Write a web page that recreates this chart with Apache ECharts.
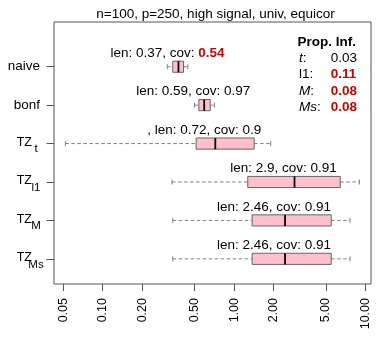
<!DOCTYPE html>
<html>
<head>
<meta charset="UTF-8">
<title>boxplot</title>
<script src="https://cdn.jsdelivr.net/npm/echarts@6.0.0/dist/echarts.min.js"></script>
<style>
  html, body { margin: 0; padding: 0; background: #fff; }
  #chart { width: 388px; height: 347px; }
</style>
</head>
<body>
<div id="chart"></div>
<script>
// methods, top to bottom
var methods = ['naive', 'bonf', 'TZ_t', 'TZ_l1', 'TZ_M', 'TZ_Ms'];
var whiskerLow = [0.31, 0.50, 0.052, 0.337, 0.341, 0.341];
var q1 = [0.341, 0.539, 0.514, 1.27, 1.37, 1.37];
var median = [0.377, 0.592, 0.719, 2.88, 2.44, 2.44];
var q3 = [0.412, 0.658, 1.42, 6.42, 5.48, 5.48];
var whiskerHigh = [0.444, 0.71, 1.90, 8.97, 7.62, 7.62];
var lenText = ['0.37', '0.59', '0.72', '2.9', '2.46', '2.46'];
var covText = ['0.54', '0.97', '0.9', '0.91', '0.91', '0.91'];
var covFlag = [true, false, false, false, false, false];
var labelPrefix = ['', '', ', ', '', '', ''];
var xTicks = [0.05, 0.1, 0.2, 0.5, 1, 2, 5, 10];
var titleText = 'n=100, p=250, high signal, univ, equicor';
var infTitle = 'Prop. Inf.';
var infNames = ['t', 'l1', 'M', 'Ms'];
var infItalic = [true, false, true, true];
var infValues = ['0.03', '0.11', '0.08', '0.08'];
var infFlag = [false, true, true, true];

var FONT = '"Liberation Sans", Arial, Helvetica, sans-serif';
var RED = '#CD0000';
var rows = methods.map(function (m, i) { return methods.length - i; });
var boxHalf = 0.145;
var stapleHalf = 0.065;

var chart = echarts.init(document.getElementById('chart'));

function renderBox(params, api) {
    var i = params.dataIndex;
    var row = api.value(5);
    var yc = api.coord([api.value(2), row])[1];
    var yTop = api.coord([api.value(2), row + boxHalf])[1];
    var yBot = api.coord([api.value(2), row - boxHalf])[1];
    var sTop = api.coord([api.value(2), row + stapleHalf])[1];
    var sBot = api.coord([api.value(2), row - stapleHalf])[1];
    var xLow = api.coord([api.value(0), row])[0];
    var xQ1 = api.coord([api.value(1), row])[0];
    var xMed = api.coord([api.value(2), row])[0];
    var xQ3 = api.coord([api.value(3), row])[0];
    var xHigh = api.coord([api.value(4), row])[0];
    var whisk = { stroke: '#808080', lineWidth: 1, lineDash: [3.5, 2.5] };
    var staple = { stroke: '#808080', lineWidth: 1 };
    var txt = labelPrefix[i] + 'len: ' + lenText[i] + ', cov: ' +
        (covFlag[i] ? '{hi|' + covText[i] + '}' : covText[i]);
    return {
        type: 'group',
        children: [
            { type: 'line', shape: { x1: xLow, y1: yc, x2: xQ1, y2: yc }, style: whisk },
            { type: 'line', shape: { x1: xQ3, y1: yc, x2: xHigh, y2: yc }, style: whisk },
            { type: 'line', shape: { x1: xLow, y1: sTop, x2: xLow, y2: sBot }, style: staple },
            { type: 'line', shape: { x1: xHigh, y1: sTop, x2: xHigh, y2: sBot }, style: staple },
            { type: 'rect', shape: { x: xQ1, y: yTop, width: xQ3 - xQ1, height: yBot - yTop },
              style: { fill: '#FFC0CB', stroke: '#666', lineWidth: 1 } },
            { type: 'line', shape: { x1: xMed, y1: yTop, x2: xMed, y2: yBot },
              style: { stroke: '#000', lineWidth: 1.8 } },
            { type: 'text', x: xMed - 11, y: yc - 13.5,
              style: {
                  text: txt, align: 'center', verticalAlign: 'middle',
                  fontSize: 13.5, fontFamily: FONT, fill: '#000',
                  rich: { hi: { fill: RED, fontWeight: 'bold', fontSize: 13.5, fontFamily: FONT } }
              } }
        ]
    };
}

function yLabel(v) {
    var name = methods[methods.length - Math.round(v)];
    if (!name) return '';
    if (name.indexOf('TZ_') === 0) {
        return '{tz|TZ}{sub|' + name.slice(3) + '}';
    }
    return '{n|' + name + '}';
}

var graphics = [
    { type: 'text', x: 215.5, y: 14.5,
      style: { text: titleText, align: 'center', verticalAlign: 'middle',
               fontSize: 13.5, fontFamily: FONT, fill: '#000' } },
    { type: 'text', x: 297.5, y: 42.3,
      style: { text: infTitle, align: 'left', verticalAlign: 'middle',
               fontSize: 13.5, fontWeight: 'bold', fontFamily: FONT, fill: '#000' } }
];
infNames.forEach(function (nm, i) {
    var y = 58.3 + 16.3 * i;
    graphics.push({ type: 'text', x: 299, y: y,
        style: { text: (infItalic[i] ? '{it|' + nm + '}' : nm) + ':',
                 align: 'left', verticalAlign: 'middle',
                 fontSize: 13.5, fontFamily: FONT, fill: '#000',
                 rich: { it: { fontStyle: 'italic', fontSize: 13.5, fontFamily: FONT, fill: '#000' } } } });
    graphics.push({ type: 'text', x: 330.7, y: y,
        style: { text: infValues[i], align: 'left', verticalAlign: 'middle',
                 fontSize: 13.5, fontFamily: FONT,
                 fontWeight: infFlag[i] ? 'bold' : 'normal',
                 fill: infFlag[i] ? RED : '#000' } });
});

var option = {
    animation: false,
    backgroundColor: '#fff',
    grid: {
        left: 54, right: 17, top: 22, bottom: 63,
        show: true, borderColor: '#555', borderWidth: 1,
        outerBoundsMode: 'none'
    },
    xAxis: {
        type: 'log',
        logBase: 10,
        min: 0.0426,
        max: 11,
        axisLine: { show: false },
        splitLine: { show: false },
        axisTick: { show: true, length: 7, customValues: xTicks, lineStyle: { color: '#555' } },
        axisLabel: {
            customValues: xTicks,
            rotate: 90,
            margin: 14,
            fontSize: 12.5,
            fontFamily: FONT,
            color: '#000',
            formatter: function (v) { return Number(v).toFixed(2); }
        }
    },
    yAxis: {
        type: 'value',
        min: 0.345,
        max: 7.164,
        axisLine: { show: false },
        splitLine: { show: false },
        axisTick: { show: true, length: 7.5, customValues: rows, lineStyle: { color: '#555' } },
        axisLabel: {
            customValues: rows,
            margin: 14,
            color: '#000',
            fontFamily: FONT,
            formatter: yLabel,
            rich: {
                n: { fontSize: 13.5, fontFamily: FONT, color: '#000' },
                tz: { fontSize: 12.5, fontFamily: FONT, color: '#000', padding: [0, 0, 2, 0] },
                sub: { fontSize: 11.5, fontFamily: FONT, color: '#000', padding: [11, 0, 0, 0],
                       width: 8, align: 'left' }
            }
        }
    },
    graphic: graphics,
    series: [{
        type: 'custom',
        renderItem: renderBox,
        clip: false,
        encode: { x: [0, 1, 2, 3, 4], y: 5 },
        data: methods.map(function (m, i) {
            return [whiskerLow[i], q1[i], median[i], q3[i], whiskerHigh[i], rows[i]];
        })
    }]
};

chart.setOption(option);
</script>
</body>
</html>
